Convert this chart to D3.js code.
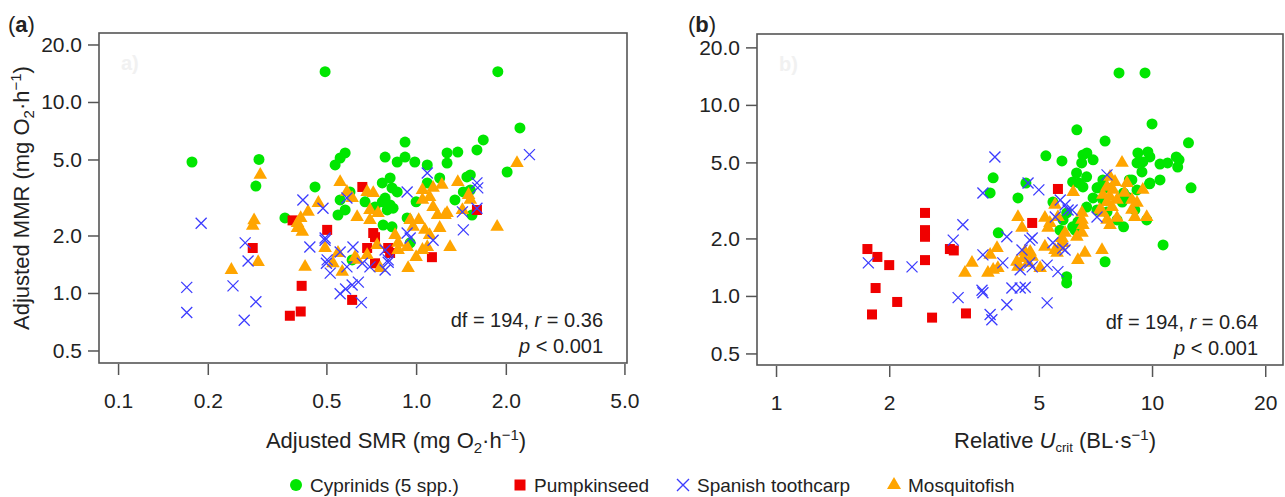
<!DOCTYPE html>
<html>
<head>
<meta charset="utf-8">
<script src="https://d3js.org/d3.v7.min.js"></script>
<style>
  html, body { margin: 0; padding: 0; background: #fff; }
  svg text { font-family: "Liberation Sans", Arial, Helvetica, sans-serif; fill: #222; }
</style>
</head>
<body>
<svg id="chart" width="1285" height="497"></svg>
<script>
// Panel (a): adjusted SMR vs adjusted MMR, [SMR, MMR]
var smrCyprinids = [[0.177,4.85],[0.297,5.0],[0.29,3.63],[0.363,2.47],[0.458,3.59],[0.495,14.4],[1.88,14.4],[0.535,4.68],[0.556,5.09],[0.578,5.41],
    [0.556,3.07],[0.578,2.72],[0.547,2.56],[0.60,3.38],[0.674,3.0],[0.787,5.15],[0.864,4.85],[0.918,5.15],[0.918,6.17],[0.99,4.85],
    [1.09,4.68],[1.27,5.41],[1.38,5.47],[1.60,5.61],[1.68,6.33],[2.23,7.31],[1.27,4.79],[2.02,4.30],[0.818,4.0],[0.77,3.77],
    [0.83,3.55],[0.864,3.38],[0.787,3.14],[0.77,3.0],[0.818,2.89],[0.80,2.72],[0.837,2.78],[0.728,2.82],[0.775,2.27],[0.83,2.22],
    [0.933,2.47],[0.955,1.83],[1.0,3.0],[1.09,3.77],[1.2,4.0],[1.48,4.05],[1.52,4.15],[1.44,3.38],[1.35,3.07],[1.52,3.46],
    [1.54,2.56],[0.61,1.49]];
var smrPumpkinseed = [[0.385,2.4],[0.283,1.72],[0.413,1.09],[0.377,0.76],[0.41,0.80],[0.66,3.59],[0.503,2.14],[0.718,2.06],[0.728,1.96],[0.685,1.72],
    [0.806,1.72],[0.818,1.62],[0.728,1.43],[1.13,1.54],[1.60,2.72],[0.61,0.92]];
var smrToothcarp = [[0.19,2.32],[0.267,1.83],[0.273,1.47],[0.17,1.07],[0.243,1.09],[0.17,0.79],[0.265,0.72],[0.29,0.90],[0.44,1.74],[0.495,1.89],
    [0.50,1.43],[0.417,3.07],[0.487,2.78],[0.586,3.14],[0.495,1.94],[0.503,1.49],[0.556,1.64],[0.614,1.74],[0.586,1.37],[0.66,1.43],
    [0.70,1.37],[0.787,1.68],[0.806,1.49],[0.787,1.32],[0.933,3.38],[0.933,2.06],[0.955,1.94],[1.09,4.25],[1.60,3.77],[1.61,3.55],
    [1.43,2.66],[1.44,2.14],[1.60,2.78],[2.4,5.3],[1.14,1.89],[0.556,0.99],[0.58,1.05],[0.61,1.10],[0.64,1.14],[0.655,0.89],
    [0.515,1.27],[0.806,1.45]];
var smrMosquitofish = [[0.30,4.15],[0.286,2.4],[0.283,2.25],[0.295,1.45],[0.24,1.32],[0.41,2.47],[0.434,2.66],[0.47,2.96],[0.40,2.19],[0.415,2.09],
    [0.424,1.37],[0.495,1.72],[0.40,2.32],[0.556,3.81],[0.586,3.38],[0.61,3.14],[0.685,3.38],[0.718,3.33],[0.634,2.5],[0.70,2.72],
    [0.745,2.62],[0.85,2.01],[0.74,1.78],[0.87,1.68],[0.547,1.62],[0.526,1.43],[0.624,1.54],[0.685,1.58],[0.565,1.29],[0.757,1.35],
    [0.94,1.35],[1.0,1.54],[1.05,1.68],[1.09,1.74],[1.11,2.01],[1.2,2.19],[1.30,1.74],[0.955,2.41],[1.02,2.41],[1.05,3.46],
    [1.05,3.07],[1.14,3.55],[1.22,3.68],[1.11,3.18],[1.14,2.82],[1.18,2.56],[1.25,2.56],[1.38,3.81],[1.43,2.72],[1.50,3.26],
    [1.52,3.07],[1.87,2.22],[2.18,4.79],[1.07,2.14],[0.977,2.22],[0.70,2.41],[0.87,1.83],[0.933,1.74],[0.634,1.49],[1.27,2.62]];

// Panel (b): relative Ucrit vs adjusted MMR, [Ucrit, MMR]
var ucritCyprinids = [[8.17,14.7],[9.58,14.7],[10.0,7.95],[6.31,7.4],[7.5,6.47],[12.5,6.33],[5.22,5.41],[5.76,5.09],[6.55,5.47],[6.71,5.6],
    [6.97,5.16],[6.5,4.97],[9.17,5.6],[9.75,5.67],[9.87,5.34],[9.45,5.03],[9.4,4.46],[9.12,4.97],[10.5,4.9],[11.0,4.97],
    [11.6,5.34],[11.7,4.73],[11.8,5.16],[12.7,3.68],[10.5,4.05],[9.85,3.86],[6.3,4.4],[6.7,4.2],[6.15,3.95],[6.4,3.9],
    [3.78,4.15],[3.71,3.46],[4.62,3.9],[4.4,3.26],[3.9,2.14],[5.45,3.1],[7.14,3.68],[7.4,4.05],[8.7,4.05],[8.4,3.46],
    [5.93,2.72],[5.8,2.5],[6.24,2.21],[10.7,1.85],[7.5,1.51],[5.93,1.26],[5.93,1.17],[6.55,3.72],[7.18,3.68],[7.59,3.68],
    [6.97,3.26],[7.14,2.82],[7.59,2.75],[8.07,2.5],[8.4,2.3],[8.84,4.05],[9.12,3.59],[9.0,2.82],[9.68,2.5],[9.87,3.9],
    [6.15,2.3],[6.35,2.44],[6.7,2.92],[5.69,2.21],[7.4,3.18],[8.33,3.1],[8.58,3.3]];
var ucritPumpkinseed = [[1.75,1.76],[1.86,1.60],[2.0,1.45],[1.84,1.10],[1.80,0.80],[2.10,0.93],[2.49,2.72],[2.49,2.21],[2.49,2.04],[2.49,1.54],
    [2.6,0.77],[2.9,1.76],[2.97,1.73],[3.2,0.81],[4.8,2.41],[5.62,3.63]];
var ucritToothcarp = [[1.76,1.49],[2.30,1.42],[2.96,1.96],[3.05,0.98],[3.14,2.36],[3.55,1.64],[3.53,1.07],[3.55,1.04],[3.71,0.80],[3.75,0.75],
    [4.11,0.90],[4.01,1.49],[4.24,1.10],[4.46,1.10],[4.6,1.11],[4.51,1.74],[4.73,1.96],[4.73,1.49],[5.26,1.45],[5.26,0.92],
    [5.62,1.34],[5.45,1.9],[5.79,1.78],[3.82,5.34],[3.55,3.46],[4.68,3.9],[5.0,3.59],[4.11,2.04],[4.8,2.01],[5.87,1.74],
    [4.46,1.37],[4.8,1.42],[5.7,3.18],[5.87,2.99],[5.98,2.82],[5.53,2.59],[6.13,2.82],[7.14,2.59],[7.59,4.3]];
var ucritMosquitofish = [[8.32,4.97],[7.73,4.2],[7.97,3.95],[7.59,3.72],[7.87,3.59],[7.73,3.3],[7.4,3.38],[8.07,3.18],[7.59,3.1],[7.83,2.92],
    [8.58,3.9],[8.45,3.46],[8.84,3.18],[9.45,3.59],[9.12,3.07],[8.84,2.82],[9.0,2.59],[9.68,2.59],[7.4,2.72],[7.59,2.5],
    [7.73,2.35],[8.07,2.56],[7.26,2.82],[6.17,3.5],[5.52,3.0],[5.62,2.59],[6.51,2.72],[6.51,2.5],[6.55,2.35],[6.31,2.04],
    [6.51,2.14],[5.87,2.14],[5.76,2.01],[5.8,1.89],[5.69,1.81],[5.19,2.56],[5.35,2.41],[5.29,2.27],[4.4,2.59],[4.51,2.27],
    [5.19,1.81],[5.52,1.74],[5.59,1.68],[4.59,1.7],[4.74,1.7],[4.8,1.6],[4.55,1.58],[4.37,1.51],[4.4,1.42],[4.68,1.49],
    [5.04,1.4],[3.71,1.64],[3.87,1.78],[3.66,1.32],[3.32,1.49],[3.18,1.32],[3.78,1.37],[3.89,1.4],[6.35,1.54],[6.63,1.68],
    [7.36,1.74]];

var mmrTicks = [0.5, 1, 2, 5, 10, 20];
var smrTicks = [0.1, 0.2, 0.5, 1, 2, 5];
var ucritTicks = [1, 2, 5, 10, 20];
var speciesNames = ['Cyprinids (5 spp.)', 'Pumpkinseed', 'Spanish toothcarp', 'Mosquitofish'];
var statsA = ['df = 194, ', 'r', ' = 0.36'];
var statsB = ['df = 194, ', 'r', ' = 0.64'];

var colors = { circle: '#00e600', square: '#f00000', cross: '#3c3cff', triangle: '#ffa500' };
var svg = d3.select('#chart');

function drawMarks(g, data, shape, x, y) {
    var sel = g.append('g').selectAll('.pt').data(data).enter();
    if (shape === 'circle') {
        sel.append('circle')
            .attr('cx', function (d) { return x(d[0]); })
            .attr('cy', function (d) { return y(d[1]); })
            .attr('r', 5.5)
            .attr('fill', colors.circle);
    } else if (shape === 'square') {
        sel.append('rect')
            .attr('x', function (d) { return x(d[0]) - 5; })
            .attr('y', function (d) { return y(d[1]) - 5; })
            .attr('width', 10).attr('height', 10)
            .attr('fill', colors.square);
    } else if (shape === 'triangle') {
        sel.append('path')
            .attr('d', d3.symbol().type(d3.symbolTriangle).size(80))
            .attr('transform', function (d) { return 'translate(' + x(d[0]) + ',' + y(d[1]) + ')'; })
            .attr('fill', colors.triangle);
    } else {
        // I draw the x as two thin strokes, like R's pch 4
        sel.append('path')
            .attr('d', 'M-5.5,-5.5L5.5,5.5M-5.5,5.5L5.5,-5.5')
            .attr('transform', function (d) { return 'translate(' + x(d[0]) + ',' + y(d[1]) + ')'; })
            .attr('stroke', colors.cross).attr('stroke-width', 1.3).attr('fill', 'none');
    }
}

function drawPanel(p) {
    var x = d3.scaleLog().domain(p.xDomain).range([p.left, p.right]);
    var y = d3.scaleLog().domain(p.yDomain).range([p.bottom, p.top]);
    var g = svg.append('g');

    var yAxis = g.append('g').attr('transform', 'translate(' + p.left + ',0)')
        .call(d3.axisLeft(y).tickValues(mmrTicks).tickFormat(d3.format('.1f')).tickSize(11).tickPadding(6));
    var xAxis = g.append('g').attr('transform', 'translate(0,' + (p.bottom + 1) + ')')
        .call(d3.axisBottom(x).tickValues(p.xTicks).tickFormat(p.xFormat).tickSize(11).tickPadding(18));
    [yAxis, xAxis].forEach(function (a) {
        a.select('.domain').remove();
        a.selectAll('line').attr('stroke', '#555').attr('stroke-width', 1.5);
        a.selectAll('text').style('font-size', '21px').attr('fill', '#222');
    });

    g.append('rect')
        .attr('x', p.left).attr('y', p.top)
        .attr('width', p.right - p.left).attr('height', p.bottom - p.top)
        .attr('fill', 'none').attr('stroke', '#555').attr('stroke-width', 1.6);

    // faint sub-panel tag left over in the source figure
    g.append('text').attr('x', p.left + 22).attr('y', p.top + 37)
        .style('font-size', '20px').style('font-weight', 'bold').style('fill', '#f1f1f1')
        .text(p.tag + ')');

    drawMarks(g, p.series[0], 'circle', x, y);
    drawMarks(g, p.series[1], 'square', x, y);
    drawMarks(g, p.series[3], 'triangle', x, y);
    drawMarks(g, p.series[2], 'cross', x, y);

    var s1 = g.append('text').attr('x', p.statsX).attr('y', p.bottom - 36)
        .attr('text-anchor', 'end').style('font-size', '20px');
    s1.append('tspan').text(p.stats[0]);
    s1.append('tspan').style('font-style', 'italic').text(p.stats[1]);
    s1.append('tspan').text(p.stats[2]);
    var s2 = g.append('text').attr('x', p.statsX).attr('y', p.bottom - 10)
        .attr('text-anchor', 'end').style('font-size', '20px');
    s2.append('tspan').style('font-style', 'italic').text('p');
    s2.append('tspan').text(' < 0.001');

    var lab = g.append('text').attr('x', p.labelX).attr('y', 32).style('font-size', '22px');
    lab.append('tspan').text('(');
    lab.append('tspan').style('font-weight', 'bold').text(p.tag);
    lab.append('tspan').text(')');

    return g;
}

var gA = drawPanel({
    left: 99, right: 627, top: 33, bottom: 363,
    xDomain: [0.0863, 5.1], yDomain: [0.43, 22.97],
    xTicks: smrTicks, xFormat: d3.format('.1f'),
    series: [smrCyprinids, smrPumpkinseed, smrToothcarp, smrMosquitofish],
    stats: statsA, statsX: 603, tag: 'a', labelX: 8
});
var gB = drawPanel({
    left: 757, right: 1283, top: 34, bottom: 365,
    xDomain: [0.89, 22.3], yDomain: [0.435, 23.5],
    xTicks: ucritTicks, xFormat: d3.format('d'),
    series: [ucritCyprinids, ucritPumpkinseed, ucritToothcarp, ucritMosquitofish],
    stats: statsB, statsX: 1258, tag: 'b', labelX: 688
});

// axis titles, with sub- and superscripts as shifted tspans
function unitTail(t) {
    t.append('tspan').attr('dy', -8).style('font-size', '15px').text('\u22121');
    t.append('tspan').attr('dy', 8).text(')');
}
var ya = svg.append('text').attr('transform', 'translate(29,198) rotate(-90)')
    .attr('text-anchor', 'middle').style('font-size', '22px');
ya.append('tspan').text('Adjusted MMR (mg O');
ya.append('tspan').attr('dy', 5).style('font-size', '15px').text('2');
ya.append('tspan').attr('dy', -5).text('\u00b7h');
unitTail(ya);

var xa = svg.append('text').attr('x', 396).attr('y', 448)
    .attr('text-anchor', 'middle').style('font-size', '22px');
xa.append('tspan').text('Adjusted SMR (mg O');
xa.append('tspan').attr('dy', 5).style('font-size', '15px').text('2');
xa.append('tspan').attr('dy', -5).text('\u00b7h');
unitTail(xa);

var xb = svg.append('text').attr('x', 1055).attr('y', 448)
    .attr('text-anchor', 'middle').style('font-size', '22px');
xb.append('tspan').text('Relative ');
xb.append('tspan').style('font-style', 'italic').text('U');
xb.append('tspan').attr('dy', 4).style('font-size', '13px').text('crit');
xb.append('tspan').attr('dy', -4).text(' (BL\u00b7s');
unitTail(xb);

// legend
var legendItems = [
    { shape: 'circle', x: 296 },
    { shape: 'square', x: 520 },
    { shape: 'cross', x: 683 },
    { shape: 'triangle', x: 894 }
];
var lg = svg.append('g');
legendItems.forEach(function (it, i) {
    var cy = 485;
    if (it.shape === 'circle') {
        lg.append('circle').attr('cx', it.x).attr('cy', cy).attr('r', 6).attr('fill', colors.circle);
    } else if (it.shape === 'square') {
        lg.append('rect').attr('x', it.x - 5.5).attr('y', cy - 5.5).attr('width', 11).attr('height', 11).attr('fill', colors.square);
    } else if (it.shape === 'cross') {
        lg.append('path').attr('d', 'M-6,-6L6,6M-6,6L6,-6').attr('transform', 'translate(' + it.x + ',' + cy + ')')
            .attr('stroke', colors.cross).attr('stroke-width', 1.4);
    } else {
        lg.append('path').attr('d', d3.symbol().type(d3.symbolTriangle).size(85))
            .attr('transform', 'translate(' + it.x + ',' + cy + ')').attr('fill', colors.triangle);
    }
    lg.append('text').attr('x', it.x + 14).attr('y', 492).style('font-size', '19px').text(speciesNames[i]);
});
</script>
</body>
</html>
